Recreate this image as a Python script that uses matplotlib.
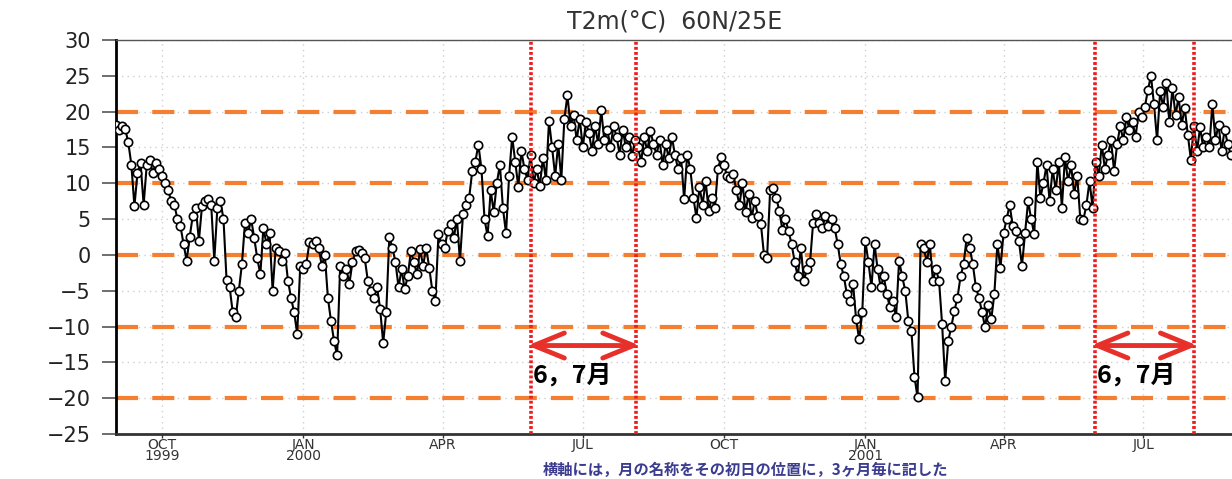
import numpy as np
import matplotlib
matplotlib.use("Agg")
import matplotlib.pyplot as plt

# ---------------- data ----------------
start = np.datetime64('1999-09-01')
step_days = 2  # one reading every 2 days, starting 1999-09-01

temps = [
    18.2, 17.5, 18.0, 17.6, 15.7, 12.6, 6.8, 11.5, 12.8, 7.0, 12.5, 13.2, 11.5, 12.8, 12.0,
    11.0, 10.0, 9.0, 7.5, 7.0, 5.0, 4.0, 1.5, -0.8, 2.5, 5.5, 6.5, 2.0, 6.8, 7.5,
    7.8, 7.0, -0.8, 6.5, 7.5, 5.0, -3.5, -4.5, -8.0, -8.7, -5.0, -1.3, 4.5, 3.0, 5.0,
    2.4, -0.5, -2.7, 3.8, 1.5, 3.0, -5.0, 1.0, 0.5, -0.8, 0.3, -3.6, -6.0, -8.0, -11.0,
    -1.5, -2.0, -1.2, 1.8, 1.5, 2.0, 1.0, -1.5, 0.0, -6.0, -9.2, -12.0, -14.0, -1.5, -3.0,
    -2.0, -4.0, -1.0, 0.5, 0.7, 0.2, -0.5, -3.6, -5.0, -6.0, -4.5, -7.5, -12.3, -8.0, 2.5,
    1.0, -1.0, -4.5, -2.0, -4.8, -3.0, 0.5, -1.0, -2.7, 0.8, -1.5, 1.0, -1.8, -5.0, -6.4,
    2.9, 1.5, 1.0, 3.3, 4.3, 2.4, 5.0, -0.8, 5.7, 7.0, 8.0, 11.7, 13.0, 15.4, 12.0,
    5.0, 2.6, 9.0, 6.0, 10.0, 12.6, 6.5, 3.0, 11.0, 16.5, 13.0, 9.5, 14.5, 12.0, 10.5,
    14.0, 10.0, 12.0, 9.6, 13.5, 10.5, 18.7, 15.0, 11.0, 15.5, 10.5, 19.0, 22.3, 18.0, 19.6,
    16.0, 19.0, 15.0, 18.5, 17.0, 14.5, 18.0, 15.5, 20.2, 16.0, 17.5, 15.0, 18.0, 16.5, 14.0,
    17.5, 15.0, 16.5, 13.8, 16.0, 15.0, 13.0, 16.4, 14.5, 17.3, 15.5, 14.0, 16.0, 12.5, 15.5,
    13.5, 16.5, 14.0, 12.0, 13.5, 7.8, 14.0, 12.0, 8.0, 5.2, 9.5, 7.0, 10.3, 6.1, 8.0,
    6.5, 12.0, 13.6, 12.5, 11.0, 10.8, 11.3, 9.0, 7.0, 10.0, 6.0, 8.5, 5.2, 7.5, 5.5,
    4.3, 0.0, -0.4, 9.0, 9.4, 8.0, 6.1, 3.5, 5.0, 3.3, 1.5, -1.0, -3.0, 1.0, -3.6,
    -2.0, -1.0, 4.5, 5.7, 4.5, 3.8, 5.5, 4.0, 5.0, 3.8, 1.5, -1.3, -3.0, -5.5, -6.4,
    -4.0, -9.0, -11.8, -8.0, 2.0, -1.0, -4.5, 1.5, -2.0, -4.5, -3.0, -5.5, -7.3, -6.4, -8.7,
    -0.8, -3.0, -5.0, -9.2, -10.6, -17.0, -19.9, 1.5, 1.0, -1.0, 1.5, -3.6, -2.0, -3.6, -9.7,
    -17.6, -12.0, -10.0, -7.8, -6.0, -3.0, -1.3, 2.4, 1.0, -1.3, -4.5, -6.0, -8.0, -10.1, -7.0,
    -9.0, -5.5, 1.5, -1.8, 3.0, 5.0, 7.0, 4.0, 3.3, 2.0, -1.5, 3.0, 7.5, 5.0, 2.9,
    13.0, 8.0, 10.0, 12.5, 7.5, 12.0, 9.0, 13.0, 6.6, 13.6, 10.3, 12.5, 8.5, 11.0, 5.0,
    4.9, 7.0, 10.3, 6.6, 13.0, 11.0, 15.4, 12.0, 14.0, 16.0, 11.7, 15.5, 18.0, 16.0, 19.2,
    17.5, 18.5, 16.5, 20.0, 19.2, 20.6, 23.0, 25.0, 21.0, 16.0, 22.9, 20.6, 24.0, 18.5, 23.3,
    19.5, 22.0, 18.2, 20.5, 16.8, 13.3, 18.0, 14.5, 17.8, 15.0, 16.5, 15.0, 21.0, 16.0, 18.2,
    14.5, 17.5, 15.5, 14.0,
]

tick_dates = ['1999-10-01', '2000-01-01', '2000-04-01', '2000-07-01',
              '2000-10-01', '2001-01-01', '2001-04-01', '2001-07-01']
tick_labels = ['OCT\n1999', 'JAN\n2000', 'APR', 'JUL', 'OCT', 'JAN\n2001', 'APR', 'JUL']
y_ticks = list(range(-25, 31, 5))
ref_levels = [20, 10, 0, -10, -20]
# June/July highlight windows (day offsets from start, as drawn)
windows = [(270.4, 338.6), (637.4, 701.8)]
window_label = '6，7月'
title = 'T2m(°C)  60N/25E'
note = '横軸には，月の名称をその初日の位置に，3ヶ月毎に記した'

# ---------------- plot ----------------
days = np.arange(len(temps)) * step_days
tick_pos = [(np.datetime64(d) - start).astype(int) for d in tick_dates]

W, H = 1232, 479
fig = plt.figure(figsize=(W / 100, H / 100), dpi=100)
fig.patch.set_facecolor('white')
ax = fig.add_axes([116 / W, 45 / H, 1124 / W, 394 / H])
ax.set_xlim(0, 732)
ax.set_ylim(-25, 30)

# light dotted grid
for v in y_ticks:
    ax.axhline(v, color='#cfcfcf', lw=1, ls=(0, (1, 3)), zorder=0)
for p in tick_pos:
    ax.axvline(p, color='#cfcfcf', lw=1, ls=(0, (1, 3)), zorder=0)

# orange dashed reference lines
for v in ref_levels:
    ax.axhline(v, color='#f47f30', lw=3, ls=(0, (5.3, 3.4)), zorder=1)

# data
ax.plot(days, temps, color='black', lw=1.5, marker='o', ms=6,
        mfc='white', mec='black', mew=1.2, zorder=3)

# red windows
for a, b in windows:
    for d in (a, b):
        ax.axvline(d, color='#ee1c1c', lw=2.6, ls=(0, (0.8, 0.6)), zorder=4)
    ax.annotate('', xy=(b + 2.5, -12.65), xytext=(a - 2.5, -12.65),
                arrowprops=dict(arrowstyle='<->,head_length=1.1,head_width=0.45',
                                color='#e8302a', lw=3.5, shrinkA=0, shrinkB=0,
                                mutation_scale=20), zorder=5)
    ax.text(a + 1, -16.9, window_label, fontsize=18, fontweight='bold',
            family=['Noto Sans CJK JP', 'DejaVu Sans'], ha='left', va='center',
            color='black', zorder=6)

# axes styling
ax.spines['right'].set_visible(False)
ax.spines['top'].set_color('#555555')
ax.spines['top'].set_linewidth(1)
ax.spines['left'].set_color('black')
ax.spines['left'].set_linewidth(2)
ax.spines['bottom'].set_color('#333333')
ax.spines['bottom'].set_linewidth(2)

ax.set_yticks(y_ticks)
ax.tick_params(axis='y', direction='out', length=10, width=1.2, color='#555555',
               pad=8, labelsize=15, labelcolor='#222222')
ax.set_xticks(tick_pos)
ax.set_xticklabels(tick_labels)
ax.tick_params(axis='x', direction='out', length=3, width=1, color='#333333',
               pad=0, labelsize=10, labelcolor='#333333')
for lbl in ax.get_xticklabels():
    lbl.set_linespacing(0.75)

fig.text(675 / W, 1 - 22 / H, title, ha='center', va='center',
         fontsize=17, color='#333333')
fig.text(543 / W, 1 - 470 / H, note, ha='left', va='center', fontsize=11,
         fontweight='bold', color='#3b3b8f',
         family=['Noto Sans CJK JP', 'DejaVu Sans'])

fig.savefig('out.png', dpi=100, facecolor='white')
